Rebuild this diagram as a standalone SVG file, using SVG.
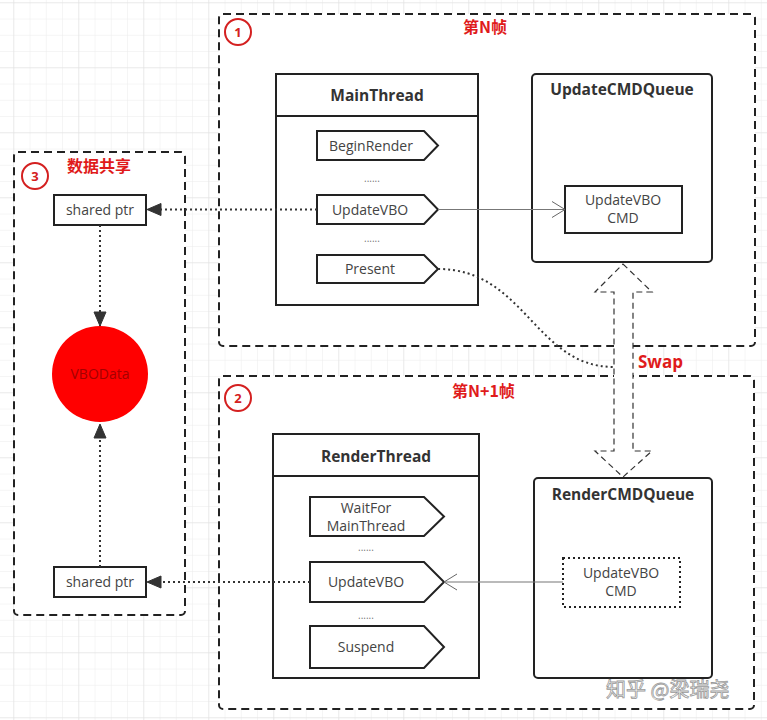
<svg xmlns="http://www.w3.org/2000/svg" width="767" height="720" viewBox="0 0 767 720">
<defs>
<pattern id="grid" x="13.3" y="2.3" width="16.25" height="16.25" patternUnits="userSpaceOnUse">
<path d="M0,0 H16.25 M0,0 V16.25" fill="none" stroke="#ececec" stroke-width="1"/>
</pattern>
<pattern id="gridMajor" x="13.3" y="2.3" width="65" height="65" patternUnits="userSpaceOnUse">
<path d="M0,0 H65 M0,0 V65" fill="none" stroke="#e0e0e0" stroke-width="1"/>
</pattern>
<marker id="openArrow" viewBox="-14 -9 16 18" refX="0" refY="0" markerWidth="16" markerHeight="18" markerUnits="userSpaceOnUse" orient="auto">
<path d="M-13,-8 L0,0 L-13,8" fill="none" stroke="#666" stroke-width="1"/>
</marker>
<marker id="fillArrow" viewBox="-15 -7 16 14" refX="0" refY="0" markerWidth="16" markerHeight="14" markerUnits="userSpaceOnUse" orient="auto">
<path d="M-14,-6 L0,0 L-14,6 Z" fill="#333" stroke="#333" stroke-width="1"/>
</marker>
</defs>
<style>
.frame{fill:#fff;stroke:#222;stroke-width:2;stroke-dasharray:8 5}
.box{fill:#fff;stroke:#222;stroke-width:2}
.title{font-family:"Open Sans","Noto Sans",sans-serif;font-weight:bold;font-size:15.5px;fill:#333;text-anchor:middle}
.lbl{font-family:"Open Sans","Noto Sans",sans-serif;font-size:14px;fill:#444;text-anchor:middle}
.dots{font-family:"Open Sans",sans-serif;font-size:10px;fill:#777;text-anchor:middle}
.red{font-family:"Noto Sans CJK SC","Noto Sans",sans-serif;font-weight:bold;font-size:16px;fill:#e01b1b}
.num{fill:#fff;stroke:#d42020;stroke-width:2}
.numt{font-family:"Open Sans","Noto Sans",sans-serif;font-weight:bold;font-size:13px;fill:#d42020;text-anchor:middle}
.dotted{fill:none;stroke:#333;stroke-width:2;stroke-dasharray:2 3}
.solid{fill:none;stroke:#777;stroke-width:1.2}
</style>
<rect width="767" height="720" fill="#fff"/>
<rect width="767" height="720" fill="url(#grid)"/>
<rect width="767" height="720" fill="url(#gridMajor)"/>

<g id="frame1">
<rect class="frame" x="219" y="14" width="536" height="332" rx="4"/>
<circle class="num" cx="238" cy="32" r="13"/>
<text class="numt" x="238" y="37">1</text>
<text class="red" x="463" y="33">第N帧</text>
</g>
<g id="frame2">
<rect class="frame" x="219" y="376" width="535" height="333" rx="4"/>
<circle class="num" cx="238" cy="398" r="13"/>
<text class="numt" x="238" y="403">2</text>
<text class="red" x="452" y="397">第N+1帧</text>
</g>
<g id="frame3">
<rect class="frame" x="14" y="152" width="171" height="463" rx="4"/>
<circle class="num" cx="35" cy="176" r="13"/>
<text class="numt" x="35" y="181">3</text>
<text class="red" x="67" y="172">数据共享</text>
</g>

<g id="MainThread">
<rect class="box" x="276" y="74" width="202" height="231"/>
<line x1="276" y1="116" x2="478" y2="116" stroke="#222" stroke-width="2"/>
<text class="title" x="377" y="101">MainThread</text>
</g>
<g id="BeginRender">
<path class="box" d="M317,131 H424 L438,145.5 L424,160 H317 Z" stroke-width="1.5"/>
<text class="lbl" x="371" y="150.5">BeginRender</text>
</g>
<text class="dots" x="372" y="182">......</text>
<g id="UpdateVBO1">
<path class="box" d="M317,195 H424 L438,209.5 L424,224 H317 Z" stroke-width="1.5"/>
<text class="lbl" x="370" y="214.5">UpdateVBO</text>
</g>
<text class="dots" x="372" y="242">......</text>
<g id="Present">
<path class="box" d="M317,255 H424 L438,269 L424,283 H317 Z" stroke-width="1.5"/>
<text class="lbl" x="370" y="274">Present</text>
</g>

<g id="UpdateCMDQueue">
<rect class="box" x="532" y="74" width="180" height="188" rx="4"/>
<text class="title" x="622" y="95">UpdateCMDQueue</text>
</g>
<g id="UpdateVBOCMD1">
<rect class="box" x="565" y="186" width="117" height="47"/>
<text class="lbl" x="623" y="205">UpdateVBO</text>
<text class="lbl" x="623" y="223">CMD</text>
</g>

<g id="RenderThread">
<rect class="box" x="273" y="434" width="206" height="244"/>
<line x1="273" y1="476" x2="479" y2="476" stroke="#222" stroke-width="2"/>
<text class="title" x="376" y="462">RenderThread</text>
</g>
<g id="WaitFor">
<path class="box" d="M310,497 H424 L444,516.5 L424,536 H310 Z" stroke-width="1.5"/>
<text class="lbl" x="366" y="513">WaitFor</text>
<text class="lbl" x="366" y="531">MainThread</text>
</g>
<text class="dots" x="366" y="551">......</text>
<g id="UpdateVBO2">
<path class="box" d="M310,562 H424 L444,582 L424,602 H310 Z" stroke-width="1.5"/>
<text class="lbl" x="366" y="587">UpdateVBO</text>
</g>
<text class="dots" x="366" y="619">......</text>
<g id="Suspend">
<path class="box" d="M310,626 H424 L444,647 L424,668 H310 Z" stroke-width="1.5"/>
<text class="lbl" x="366" y="652">Suspend</text>
</g>

<g id="RenderCMDQueue">
<rect class="box" x="534" y="478" width="178" height="200" rx="4"/>
<text class="title" x="623" y="500">RenderCMDQueue</text>
</g>
<g id="UpdateVBOCMD2">
<rect x="563" y="558" width="117" height="49" fill="#fff" stroke="#222" stroke-width="2" stroke-dasharray="2 3"/>
<text class="lbl" x="621" y="578">UpdateVBO</text>
<text class="lbl" x="621" y="596">CMD</text>
</g>

<g id="sharedPtr1">
<rect class="box" x="54" y="195" width="92" height="30" stroke-width="1.5"/>
<text class="lbl" x="100" y="215">shared ptr</text>
</g>
<g id="VBOData">
<circle cx="100" cy="374" r="48" fill="#ff0000"/>
<text x="100" y="379" font-family="Open Sans, Noto Sans, sans-serif" font-size="14" fill="#a30000" text-anchor="middle">VBOData</text>
</g>
<g id="sharedPtr2">
<rect class="box" x="54" y="567" width="92" height="30" stroke-width="1.5"/>
<text class="lbl" x="100" y="587">shared ptr</text>
</g>

<g id="connectors">
<path class="dotted" d="M317,209.5 H147" marker-end="url(#fillArrow)"/>
<path class="dotted" d="M310,582 H147" marker-end="url(#fillArrow)"/>
<path class="dotted" d="M100,225 V326" marker-end="url(#fillArrow)"/>
<path class="dotted" d="M100,567 V424" marker-end="url(#fillArrow)"/>
<path class="solid" d="M438,209.5 H565" marker-end="url(#openArrow)"/>
<path class="solid" d="M563,582 H444" marker-end="url(#openArrow)"/>
<path class="dotted" d="M438,269 C525,269 535,367 614,367"/>
<path id="swapArrow" d="M623,264 L652,292 H633 V451 H652 L623,477 L595,451 H614 V292 H595 Z" fill="#fff" stroke="#333" stroke-width="1.2" stroke-dasharray="6 4"/>
<text x="638" y="368" font-family="Open Sans, Noto Sans, sans-serif" font-weight="bold" font-size="17" fill="#e01b1b">Swap</text>
</g>

<text x="606" y="697" font-family="Noto Sans CJK SC, sans-serif" font-size="20" fill="#fff" stroke="#999" stroke-width="0.8">知乎 @梁瑞尧</text>
</svg>
